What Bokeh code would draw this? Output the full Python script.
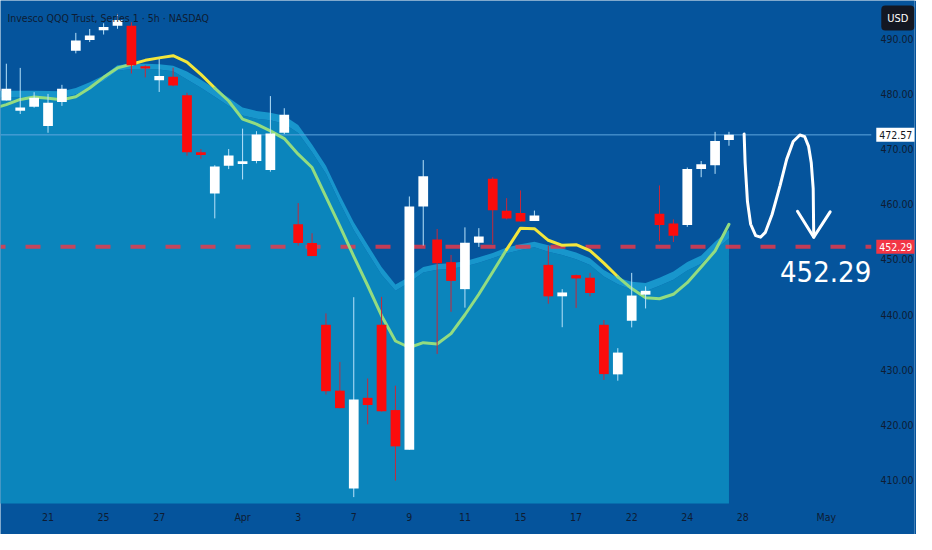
import numpy as np
from bokeh.plotting import figure
from bokeh.models import ColumnDataSource, Range1d, FixedTicker, PrintfTickFormatter, Label
from bokeh.embed import file_html
from bokeh.resources import INLINE

# QQQ, 5h bars (two bars per session)
opens = [478.82, 476.95, 477.65, 474.18, 478.54, 487.81, 489.75, 491.52, 492.35, 492.35,
         485.0, 482.47, 483.12, 479.77, 469.4, 461.96, 466.95, 467.3, 467.83, 466.19,
         472.95, 456.37, 452.96, 438.14, 426.2, 408.45, 424.9, 438.14, 422.68, 415.5,
         459.6, 453.6, 449.5, 444.6, 453.0, 464.6, 458.8, 458.4, 456.95, 449.0,
         443.3, 447.14, 446.67, 438.14, 429.15, 438.87, 443.6, 458.26, 456.5, 456.25,
         466.37, 467.07, 471.66]
highs = [485.47, 484.71, 480.3, 480.0, 481.64, 491.06, 491.76, 492.8, 494.5, 493.0,
         485.17, 486.35, 484.76, 480.2, 470.0, 467.07, 470.0, 473.7, 473.24, 479.6,
         477.4, 460.2, 454.73, 440.2, 431.4, 443.14, 428.4, 443.2, 427.1, 461.4,
         468.0, 455.5, 450.8, 455.8, 455.66, 464.9, 461.1, 462.5, 458.84, 452.5,
         444.6, 447.25, 447.55, 439.0, 433.9, 447.55, 445.1, 463.4, 457.25, 466.65,
         467.83, 473.12, 473.12]
lows = [478.8, 476.35, 477.5, 472.95, 477.83, 487.35, 489.4, 490.76, 491.8, 483.7,
        483.0, 480.35, 481.36, 468.8, 468.24, 457.43, 466.37, 464.48, 467.42, 465.89,
        472.7, 452.5, 450.6, 425.5, 423.0, 406.9, 420.1, 422.4, 409.9, 415.5,
        452.5, 432.85, 440.5, 441.25, 452.26, 452.8, 457.25, 456.85, 456.95, 441.96,
        437.7, 441.2, 443.3, 428.15, 428.0, 437.67, 441.1, 453.3, 453.15, 455.9,
        464.9, 465.5, 470.6]
closes = [480.93, 477.53, 479.3, 478.41, 480.93, 489.7, 490.58, 492.12, 493.4, 485.17,
          484.6, 483.23, 481.53, 469.4, 468.94, 466.83, 468.83, 467.78, 472.65, 472.83,
          476.24, 452.96, 450.6, 426.1, 423.03, 424.6, 423.6, 422.45, 416.1, 459.6,
          465.06, 449.3, 446.1, 453.0, 454.13, 458.9, 457.4, 456.85, 457.95, 443.3,
          444.0, 446.54, 443.9, 429.2, 433.1, 443.44, 444.3, 456.25, 454.3, 466.36,
          467.25, 471.48, 472.57]

# indicator: fast line + slow band (top / bottom edge); starts one bar earlier (off screen)
fast_ma = [477.3, 478.06, 478.99, 479.42, 479.21, 478.94, 479.47, 481.06, 483.0, 484.71,
           485.38, 486.08, 486.53, 486.93, 485.77, 483.53, 481.06, 478.71, 475.41, 474.53,
           473.3, 471.89, 469.07, 466.65, 461.31, 456.01, 450.55, 445.26, 439.79, 435.2,
           434.02, 434.9, 434.67, 436.53, 439.96, 443.67, 447.72, 451.78, 455.66, 455.57,
           453.46, 452.54, 452.66, 451.6, 449.31, 446.84, 444.71, 443.05, 442.86, 443.67,
           445.78, 448.61, 451.52, 456.37]
slow_top = [480.6, 480.58, 480.58, 480.58, 480.53, 480.48, 481.06, 482.12, 483.35, 485.17,
            485.47, 485.47, 485.38, 485.11, 484.06, 482.56, 480.97, 479.29, 477.53, 476.91,
            476.56, 476.03, 474.36, 470.83, 466.95, 461.66, 456.72, 452.66, 448.6, 445.43,
            446.84, 448.61, 449.14, 449.31, 449.66, 450.37, 451.16, 452.13, 452.75, 453.19,
            452.57, 451.96, 451.25, 450.19, 448.08, 446.67, 445.96, 445.7, 446.67, 447.81,
            449.51, 450.72, 453.19, 455.31]
slow_bot = [479.4, 479.4, 479.4, 479.4, 479.3, 479.3, 479.9, 481.1, 482.3, 484.2,
            484.5, 484.5, 484.4, 484.1, 482.6, 481.1, 479.5, 477.8, 476.1, 475.5,
            475.2, 474.6, 472.9, 469.4, 465.5, 460.2, 455.3, 451.2, 447.2, 444.3,
            445.8, 447.6, 448.1, 448.3, 448.7, 449.4, 450.2, 451.1, 451.7, 452.2,
            451.4, 450.8, 450.0, 449.0, 446.9, 445.5, 444.5, 444.2, 445.2, 446.3,
            448.0, 449.2, 451.7, 453.8]

last_price = 472.57
target_price = 452.29

tick_bars = [3, 7, 11, 17, 21, 25, 29, 33, 37, 41, 45, 49, 53, 59]
tick_labels = ["21", "25", "27", "Apr", "3", "7", "9", "11", "15", "17", "22", "24", "28", "May"]
price_ticks = [410, 420, 430, 440, 450, 460, 470, 480, 490]

# the hand drawn zig-zag + arrow (bar index, price)
sketch_x = [53.09, 53.16, 53.33, 53.56, 53.92, 54.27, 54.62, 55.1, 55.68, 56.15,
            56.62, 57.1, 57.45, 57.73, 57.92, 58.06, 58.1]
sketch_y = [472.72, 467.53, 460.48, 456.37, 454.3, 454.02, 454.9, 458.13, 463.42, 468.13,
            471.36, 472.54, 472.24, 470.48, 467.53, 462.84, 454.02]
head_x = [56.93, 58.1, 59.28]
head_y = [458.71, 454.02, 458.61]

BG = "#05549c"
FILL = "#0b85bc"
BAND = "#1896cc"
YEL = "#f2e63c"
GRN = "#93dc80"
RED = "#fb0c0c"
TXT = "#0e1c33"
FONT = "DejaVu Sans Condensed"

# the frame covers the whole canvas; the chart pane ends at pane_end / pane_floor,
# price scale and date scale live in the strips right of / below it
x_start, pane_end, x_end = -0.42, 62.24, 65.35
pane_floor, y_start, y_end = 405.75, 400.12, 496.93

p = figure(width=916, height=534, output_backend="svg", toolbar_location=None,
           x_range=Range1d(x_start, x_end), y_range=Range1d(y_start, y_end),
           y_axis_location="right", min_border_left=0, min_border_top=0,
           min_border_right=0, min_border_bottom=0)
p.background_fill_color = BG
p.border_fill_color = BG
p.outline_line_color = None
p.grid.visible = False

bars = np.arange(len(opens))
ma_bars = np.arange(-1, len(opens))

# shaded area under the slow line, lighter band on top of it
p.varea(x=ma_bars, y1=pane_floor, y2=slow_bot, fill_color=FILL)
p.varea(x=ma_bars, y1=slow_bot, y2=slow_top, fill_color=BAND)

p.segment(x0=[x_start], y0=[last_price], x1=[pane_end], y1=[last_price],
          line_color="#5fa6de", line_width=1)
p.segment(x0=[x_start], y0=[target_price], x1=[pane_end], y1=[target_price],
          line_color="#f23645", line_alpha=0.8, line_width=4,
          line_dash="15 20", line_dash_offset=10)

# fast line: yellow while above the slow line, green below
runs_x, runs_y, runs_c = [], [], []
for k in range(len(ma_bars) - 1):
    above = fast_ma[k] + fast_ma[k + 1] > slow_top[k] + slow_top[k + 1]
    c = YEL if above else GRN
    if runs_c and runs_c[-1] == c:
        runs_x[-1].append(ma_bars[k + 1])
        runs_y[-1].append(fast_ma[k + 1])
    else:
        runs_x.append([ma_bars[k], ma_bars[k + 1]])
        runs_y.append([fast_ma[k], fast_ma[k + 1]])
        runs_c.append(c)
p.multi_line(xs=runs_x, ys=runs_y, line_color=runs_c, line_width=3,
             line_cap="round", line_join="round")

up = [c >= o for o, c in zip(opens, closes)]
src = ColumnDataSource(dict(
    x=bars, o=opens, h=highs, l=lows, c=closes,
    top=[max(o, c) for o, c in zip(opens, closes)],
    bot=[min(o, c) for o, c in zip(opens, closes)],
    body=["#ffffff" if u else RED for u in up],
    wick=["#b8e2fa" if u else "#c8283a" for u in up],
))
p.segment(x0="x", y0="h", x1="x", y1="l", source=src, line_color="wick", line_width=1)
p.vbar(x="x", top="top", bottom="bot", width=0.7, source=src,
       fill_color="body", line_color=None)

p.line(sketch_x, sketch_y, line_color="white", line_width=3, line_cap="round", line_join="round")
p.line(head_x, head_y, line_color="white", line_width=3, line_cap="round", line_join="round")

# axes: labels pulled back into the price / date strips
p.yaxis.ticker = FixedTicker(ticks=price_ticks)
p.yaxis.formatter = PrintfTickFormatter(format="%.2f")
p.xaxis.ticker = FixedTicker(ticks=tick_bars)
p.xaxis.major_label_overrides = dict(zip(tick_bars, tick_labels))
for ax in (p.xaxis, p.yaxis):
    ax.axis_line_color = None
    ax.major_tick_line_color = None
    ax.minor_tick_line_color = None
    ax.major_tick_out = 0
    ax.major_tick_in = 0
    ax.major_label_text_color = TXT
    ax.major_label_text_font = FONT
    ax.major_label_text_font_size = "10.5px"
p.yaxis.major_label_standoff = -34
p.xaxis.major_label_standoff = -24

# texts
p.add_layout(Label(x=x_start, y=y_end, x_offset=7, y_offset=-17.5,
                   text="Invesco QQQ Trust, Series 1 · 5h · NASDAQ",
                   text_baseline="middle", text_font=FONT, text_font_size="10.5px",
                   text_color=TXT))
p.add_layout(Label(x=pane_end, y=y_end, x_offset=10, y_offset=-17.5, text="USD",
                   text_baseline="middle", text_font=FONT, text_font_size="11px",
                   text_color="white", background_fill_color="#131722",
                   padding=6, border_radius=4))
p.add_layout(Label(x=pane_end, y=last_price, x_offset=5, text="472.57",
                   text_baseline="middle", text_font=FONT, text_font_size="10.5px",
                   text_color="#131722", background_fill_color="white", padding=3))
p.add_layout(Label(x=pane_end, y=target_price, x_offset=5, text="452.29",
                   text_baseline="middle", text_font=FONT, text_font_size="10.5px",
                   text_color="white", background_fill_color="#f23645", padding=3))
p.add_layout(Label(x=pane_end, y=target_price, y_offset=-24.5, text="452.29",
                   text_align="right", text_baseline="middle", text_font=FONT,
                   text_font_size="29px", text_color="white"))

open("out.html", "w").write(file_html(p, INLINE))
